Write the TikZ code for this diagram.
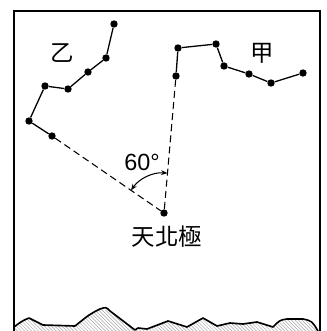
\documentclass[tikz,border=0pt]{standalone}
\usepackage{fontspec}
\setmainfont{Liberation Sans}
\newfontfamily\cjk{Noto Sans CJK TC}
\usetikzlibrary{patterns,arrows.meta}

\begin{document}
\begin{tikzpicture}[x=0.03cm, y=-0.03cm,
        star/.style={circle, fill, inner sep=0pt, minimum size=6.3pt},
        lbl/.style={font=\fontsize{20}{24}\selectfont, inner sep=0pt}]
    \useasboundingbox (0,0) rectangle (326,331);
    \clip (0,0) rectangle (326,331);

    % ground with hatching
    \fill[pattern=north west lines, pattern color=gray!70]
        (14,327) -- (29,318) -- (43,325) -- (75,326) -- (100,309) -- (110,311)
        -- (135,330) -- (138,328) -- (147,329) -- (168,321) -- (187,327)
        -- (203,318) -- (217,326) -- (230,323) -- (243,324) -- (257,322)
        -- (273,327) -- (287,319) -- (303,319) -- (315,327) -- (318,331)
        -- (318,340) -- (14,340) -- cycle;
    \draw[line width=1.4pt, line join=round]
        (14,327) .. controls (22,321) .. (29,318) .. controls (36,321) .. (43,325)
        -- (75,326) .. controls (90,314) .. (100,309) .. controls (106,307) .. (110,311)
        -- (135,330) -- (138,328) -- (147,329) -- (168,321) -- (187,327)
        -- (203,318) -- (217,326) -- (230,323) -- (243,324) -- (257,322)
        -- (273,327) .. controls (280,320) .. (287,319) -- (303,319)
        .. controls (312,321) .. (318,331);

    % frame
    \draw[line width=1.3pt] (14,340) -- (14,11) -- (320,11) -- (320,340);

    % constellation Yi
    \node[star] (y1) at (114,24) {};
    \node[star] (y2) at (106,58) {};
    \node[star] (y3) at (88,72) {};
    \node[star] (y4) at (68,89) {};
    \node[star] (y5) at (45,86) {};
    \node[star] (y6) at (29,121) {};
    \node[star] (y7) at (52,136) {};
    \draw[line width=1.1pt] (y1) -- (y2) -- (y3) -- (y4) -- (y5) -- (y6) -- (y7);

    % constellation Jia
    \node[star] (j1) at (176,76) {};
    \node[star] (j2) at (178,48) {};
    \node[star] (j3) at (216,44) {};
    \node[star] (j4) at (224,66) {};
    \node[star] (j5) at (249,74) {};
    \node[star] (j6) at (271,83) {};
    \node[star] (j7) at (303,73) {};
    \draw[line width=1.1pt] (j1) -- (j2) -- (j3) -- (j4) -- (j5) -- (j6) -- (j7);

    % celestial pole
    \node[star] (pole) at (164,213) {};
    \draw[line width=0.9pt, dash pattern=on 6pt off 3.5pt] (y7) -- (pole);
    \draw[line width=0.9pt, dash pattern=on 6pt off 3.5pt] (j1) -- (pole);
    \draw[line width=0.9pt, {Stealth[length=5.5pt]}-{Stealth[length=5.5pt]}]
        (pole) ++(-145.5:40) arc[start angle=-145.5, end angle=-85, radius=40];

    \node[lbl] (yi) at (62,53) {\cjk 乙};
    \node[lbl] (jia) at (262,53) {\cjk 甲};
    \node[lbl] (ang) at (142,162) {60°};
    \node[lbl] (polename) at (167,237) {\cjk 天北極};
\end{tikzpicture}
\end{document}
